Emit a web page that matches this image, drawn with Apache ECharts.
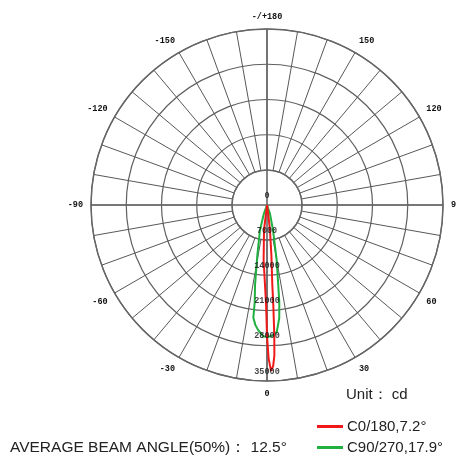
<!DOCTYPE html>
<html>
<head>
<meta charset="utf-8">
<script src="https://cdn.jsdelivr.net/npm/echarts@6/dist/echarts.min.js"></script>
<style>html,body{margin:0;padding:0;background:#fff;}#c{width:456px;height:455px;}</style>
</head>
<body>
<div id="c"></div>
<script>
// Angle ticks (degrees) and their labels
var angleTickValues = [-180, -150, -120, -90, -60, -30, 0, 30, 60, 90, 120, 150];
var angleTickLabels = ['-/+180', '-150', '-120', '-90', '-60', '-30', '0', '30', '60', '90', '120', '150'];
// Radial ticks (cd)
var radiusTickValues = [0, 7000, 14000, 21000, 28000, 35000];
var radiusTickLabels = ['0', '7000', '14000', '21000', '28000', '35000'];

// C0/180 curve
var redAngles = [-90, -30, -12, -6.8, -3.5, -1.4, -0.5, 0, 0.6, 1.4, 2.2, 2.8, 3.2, 3.6, 3.8, 5, 6.8, 12, 30, 90];
var redValues = [0, 0, 300, 5000, 11000, 16000, 20000, 26000, 30500, 33000, 32000, 30000, 26000, 20000, 16000, 10000, 5000, 300, 0, 0];
// C90/270 curve
var greenAngles = [-90, -28, -20, -15.6, -11, -8.5, -7.2, -6.9, -5.5, -4.1, -1.7, 0.4, 2.5, 4.4, 6.2, 7.2, 8, 10, 13.5, 19, 27, 90];
var greenValues = [0, 0, 1800, 5200, 10000, 16100, 19500, 22600, 24000, 24900, 26100, 26250, 26000, 25300, 22600, 19500, 16100, 11000, 5100, 1800, 0, 0];

var seriesNames = ['C0/180,7.2°', 'C90/270,17.9°'];
var unitText = 'Unit： cd';
var beamText = 'AVERAGE BEAM ANGLE(50%)： 12.5°';

function pairs(angles, values) {
  return angles.map(function (a, i) { return [values[i], a]; });
}

var chart = echarts.init(document.getElementById('c'), null, {renderer: 'canvas'});
var gridColor = '#585858';
var option = {
  backgroundColor: '#fff',
  animation: false,
  title: [
    {text: unitText, left: 346, top: 387, padding: 0,
     textStyle: {fontFamily: 'Liberation Sans', fontSize: 15, fontWeight: 'normal', color: '#222'}},
    {text: beamText, left: 10, top: 440, padding: 0,
     textStyle: {fontFamily: 'Liberation Sans', fontSize: 15.5, fontWeight: 'normal', color: '#222'}}
  ],
  legend: {
    orient: 'vertical', left: 317, top: 419, itemGap: 6, padding: 0,
    icon: 'rect', itemWidth: 26, itemHeight: 3,
    textStyle: {fontFamily: 'Liberation Sans', fontSize: 15, color: '#222', padding: [0, 0, 0, -1]},
    data: seriesNames
  },
  polar: [
    {center: [267, 205], radius: [35, 176]},
    {center: [267, 205], radius: [0, 176]}
  ],
  angleAxis: [
    {polarIndex: 0, type: 'value', min: -180, max: 180, interval: 10, startAngle: 90, clockwise: false,
     axisLine: {show: true, lineStyle: {color: '#666', width: 1.4}},
     axisTick: {show: false},
     splitLine: {show: true, lineStyle: {color: gridColor, width: 1}},
     axisLabel: {show: true, margin: 8, color: '#111', fontFamily: 'Liberation Mono', fontWeight: 'bold', fontSize: 8.5,
       formatter: function (v) { var i = angleTickValues.indexOf(v); return i >= 0 ? angleTickLabels[i] : ''; }}
    },
    {polarIndex: 1, type: 'value', min: -180, max: 180, interval: 90, startAngle: 90, clockwise: false,
     axisLine: {show: false}, axisTick: {show: false}, axisLabel: {show: false},
     splitLine: {show: true, lineStyle: {color: '#666', width: 1.6}}
    }
  ],
  radiusAxis: [
    {polarIndex: 0, type: 'value', min: 7000, max: 35000, interval: 7000,
     axisLine: {show: false}, axisTick: {show: false}, axisLabel: {show: false},
     splitLine: {show: true, lineStyle: {color: '#606060', width: 1.2}}
    },
    {polarIndex: 1, type: 'value', min: 0, max: 35000, interval: 7000,
     axisLine: {show: false}, axisTick: {show: false}, axisLabel: {show: false}, splitLine: {show: false}
    }
  ],
  series: [
    {name: seriesNames[0], type: 'line', coordinateSystem: 'polar', polarIndex: 1, symbol: 'none', z: 4,
     color: '#f01818', lineStyle: {color: '#f01818', width: 2}, data: pairs(redAngles, redValues)},
    {name: seriesNames[1], type: 'line', coordinateSystem: 'polar', polarIndex: 1, symbol: 'none', z: 3,
     color: '#20b040', lineStyle: {color: '#20b040', width: 2}, data: pairs(greenAngles, greenValues)},
    {type: 'scatter', coordinateSystem: 'polar', polarIndex: 1, symbolSize: 0, z: 5, silent: true,
     data: radiusTickValues.map(function (v) { return [v, 0]; }),
     label: {show: true, position: 'top', distance: 5, color: '#111', fontFamily: 'Liberation Mono', fontWeight: 'bold', fontSize: 8.5,
       formatter: function (p) { return radiusTickLabels[p.dataIndex]; }}
    }
  ]
};
chart.setOption(option);
</script>
</body>
</html>
